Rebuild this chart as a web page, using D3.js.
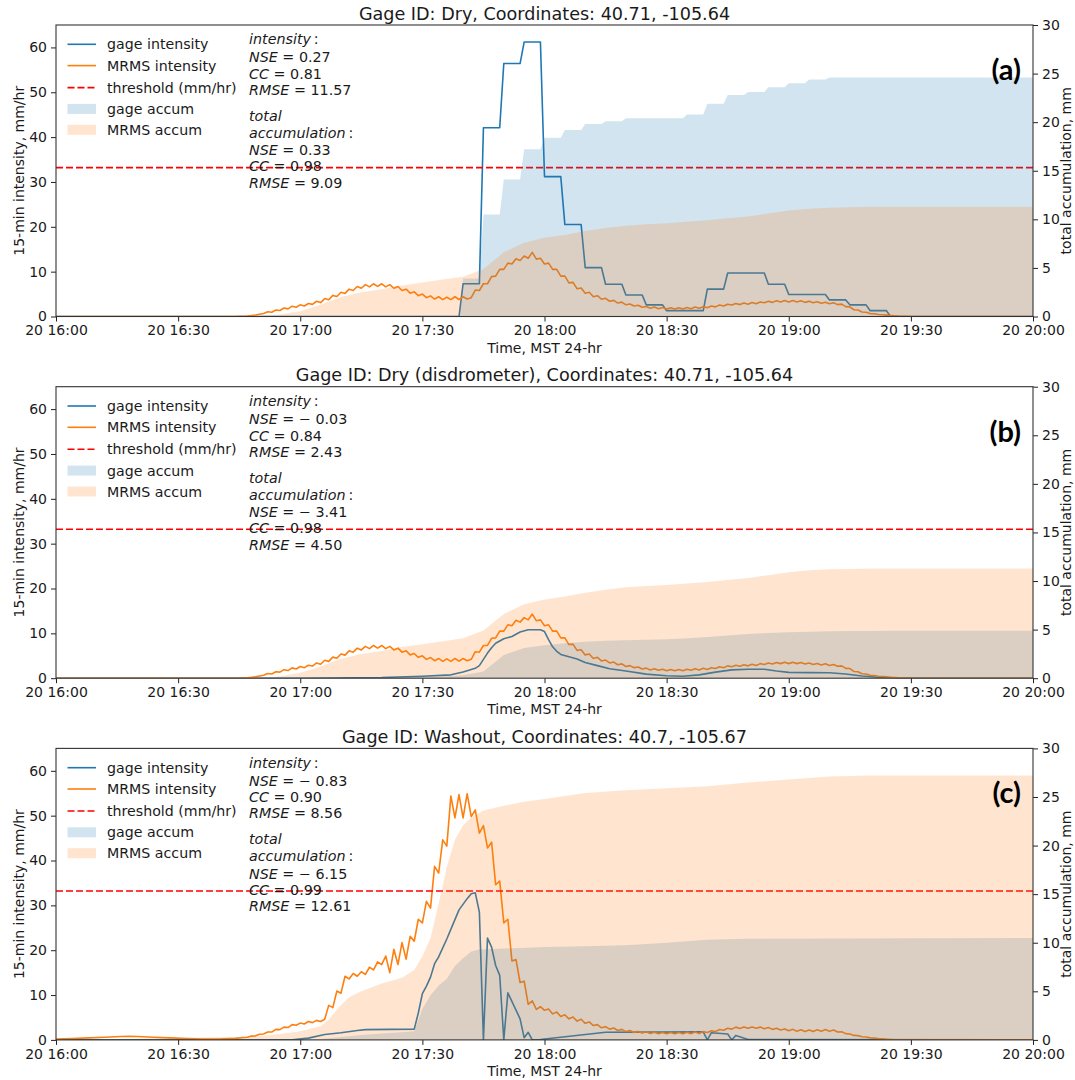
<!DOCTYPE html>
<html>
<head>
<meta charset="utf-8">
<script src="https://cdn.jsdelivr.net/npm/d3@7"></script>
<style>
  body { margin: 0; background: #fff; }
  text { font-family: 'DejaVu Sans', sans-serif; }
</style>
</head>
<body>
<svg width="1075" height="1080"></svg>
<script>
// all times are minutes after 20 16:00 (MST)

// gage Dry: 5-min blocks starting at 17:40
const gageDryStart = 100
const gageDryI = [7.3, 42.1, 56.4, 61.2, 31.2, 20.5, 10.9, 7.2, 4.8, 2.6, 1.3, 1.3, 6.1, 9.7, 9.7, 7.2, 4.9, 4.9, 3.7, 2.6, 1.3, 0]
const gageDryA = [3.9, 10.5, 14.1, 17.2, 18.4, 19.2, 19.8, 20.1, 20.4, 20.4, 20.4, 20.8, 21.9, 22.8, 23.1, 23.6, 24.0, 24.4, 24.6]

// MRMS Dry intensity, 1-min values from 16:44
const mrmsDryStart = 44
const mrmsDryI = [
  0, 0.02, 0.05, 0.1, 0.2, 0.33, 0.5, 0.65, 1.05, 0.95,
  1.45, 1.35, 1.9, 1.7, 2.3, 2.05, 2.6, 2.35, 2.9, 2.7,
  3.4, 3.1, 4.0, 3.75, 4.7, 4.45, 5.4, 5.15, 6.1, 5.8,
  6.7, 6.3, 7.1, 6.6, 7.3, 6.7, 7.3, 6.6, 7.1, 6.3,
  6.7, 5.8, 6.1, 5.2, 5.5, 4.65, 5.0, 4.2, 4.6, 3.9,
  4.4, 3.75, 4.3, 3.75, 4.4, 3.8, 4.4, 3.9, 4.2, 5.9,
  5.8, 7.3, 7.3, 8.9, 9.0, 10.5, 10.5, 11.9, 11.7, 12.9,
  12.5, 13.5, 13.0, 14.3, 12.8, 13.0, 11.7, 11.9, 10.5, 10.5,
  9.0, 9.0, 7.5, 7.6, 6.2, 6.35, 5.2, 5.4, 4.4, 4.65,
  3.85, 4.05, 3.4, 3.6, 3.0, 3.2, 2.6, 2.8, 2.35, 2.5,
  2.05, 2.25, 1.85, 2.1, 1.75, 2.0, 1.65, 1.95, 1.65, 1.95,
  1.65, 2.0, 1.75, 2.1, 1.85, 2.2, 1.95, 2.35, 2.15, 2.55,
  2.35, 2.75, 2.55, 2.9, 2.65, 3.0, 2.75, 3.1, 2.85, 3.25,
  3.05, 3.4, 3.15, 3.5, 3.25, 3.55, 3.25, 3.55, 3.25, 3.5,
  3.15, 3.4, 3.05, 3.3, 2.95, 3.2, 2.85, 3.05, 2.65, 2.75,
  2.2, 2.15, 1.5, 1.45, 1.0, 0.95, 0.65, 0.6, 0.45, 0.38,
  0.3, 0.22, 0.15, 0.08, 0.05, 0.02, 0
]
// MRMS Dry accumulation (mm), every 5 min from 16:00
const mrmsDryA = [
  0, 0, 0, 0, 0, 0, 0, 0, 0, 0,
  0.05, 0.2, 0.55, 1.2, 2.0, 2.5, 2.8, 3.2, 3.5, 3.8,
  4.1, 4.9, 6.6, 7.6, 8.1, 8.4, 8.8, 9.1, 9.35, 9.5,
  9.6, 9.75, 9.9, 10.1, 10.3, 10.6, 10.9, 11.1, 11.2, 11.25,
  11.3, 11.3, 11.3, 11.3, 11.3, 11.3, 11.3, 11.3, 11.3
]

// disdrometer
const gageDisT = [0, 60, 80, 90, 97, 100, 103, 104, 105, 106, 107, 108, 110, 112, 114, 116, 119, 120, 121, 122, 123, 124, 126, 128, 130, 133, 136, 140, 145, 150, 154, 158, 162, 166, 170, 174, 177, 180, 185, 190, 194, 198, 202, 207, 240]
const gageDisI = [0, 0, 0.15, 0.45, 0.75, 1.4, 2.2, 2.8, 4.2, 5.6, 6.8, 7.8, 8.8, 9.3, 10.3, 10.8, 10.8, 10.4, 8.6, 7.0, 6.0, 5.3, 4.8, 4.3, 3.5, 2.8, 2.1, 1.6, 0.9, 0.55, 0.45, 0.75, 1.35, 1.85, 2.0, 2.0, 1.6, 1.3, 1.25, 1.2, 0.95, 0.5, 0.2, 0, 0]
const gageDisA = [
  0, 0, 0, 0, 0, 0, 0, 0, 0, 0, 0, 0,
  0.01, 0.02, 0.03, 0.05, 0.07, 0.1, 0.15, 0.2, 0.3, 0.7,
  2.4, 3.1, 3.4, 3.6, 3.75, 3.85, 3.9, 3.95, 4.0, 4.1,
  4.25, 4.4, 4.55, 4.65, 4.72, 4.78, 4.82, 4.85, 4.87, 4.88,
  4.88, 4.88, 4.88, 4.88, 4.88, 4.88, 4.88
]

// Washout
const gageWashT = [0, 58, 62, 66, 70, 74, 76, 88, 89, 90, 91, 92, 93, 94, 96, 99, 101, 102, 103, 104, 105, 106, 107, 108, 109, 110, 111, 114, 115, 116, 117, 119, 135, 159, 160, 161, 165, 166, 167, 170, 240]
const gageWashI = [0, 0, 0.4, 1.2, 1.6, 2.1, 2.3, 2.4, 6.0, 10.3, 12.0, 14.0, 17.0, 18.5, 22.5, 29.0, 31.5, 32.6, 32.8, 28.5, 0, 22.7, 20.7, 16.6, 14.4, 0, 10.5, 4.7, 0.5, 1.7, 0, 0.1, 1.7, 1.8, 0, 1.6, 1.3, 0, 1.0, 0.1, 0]
const gageWashAT = [0, 60, 65, 70, 75, 80, 85, 88, 90, 92, 94, 96, 98, 100, 102, 104, 110, 120, 130, 140, 150, 160, 170, 240]
const gageWashA = [0, 0, 0.1, 0.3, 0.5, 0.65, 0.8, 0.9, 3.2, 4.6, 5.6, 6.3, 7.6, 8.4, 9.1, 9.3, 9.4, 9.55, 9.65, 9.75, 10.0, 10.3, 10.4, 10.5]

const mrmsWashEarlyT = [0, 4, 8, 12, 16, 18, 20, 24, 28, 32, 36, 40, 44]
const mrmsWashEarlyI = [0.2, 0.3, 0.45, 0.6, 0.75, 0.8, 0.75, 0.6, 0.45, 0.3, 0.2, 0.2, 0.35]
const mrmsWashStart = 46
const mrmsWashI = [
  0.55, 0.6, 0.85, 0.9, 1.25, 1.3, 1.75, 1.75, 2.35, 2.3,
  2.85, 2.75, 3.4, 3.25, 3.75, 3.55, 4.1, 3.85, 4.35, 4.1,
  4.6, 7.7, 7.2, 10.9, 10.4, 14.2, 13.6, 14.8, 14.2, 15.2,
  14.6, 16.2, 15.6, 17.4, 16.8, 18.7, 15.0, 20.2, 16.8, 21.7,
  18.0, 23.1, 22.0, 26.9, 26.1, 30.9, 29.4, 38.7, 37.2, 44.6,
  43.2, 54.4, 49.5, 54.7, 49.5, 54.9, 49.8, 51.3, 46.1, 47.8,
  42.8, 44.1, 34.6, 35.4, 26.1, 26.9, 17.6, 17.9, 12.8, 13.1,
  7.9, 8.7, 6.8, 7.4, 6.6, 6.9, 5.8, 6.2, 5.2, 5.6,
  4.7, 5.1, 4.2, 4.6, 3.7, 4.0, 3.2, 3.4, 2.7, 2.95,
  2.4, 2.65, 2.1, 2.35, 1.85, 2.1, 1.65, 1.9, 1.55, 1.8,
  1.45, 1.7, 1.4, 1.65, 1.35, 1.65, 1.35, 1.65, 1.35, 1.7,
  1.4, 1.75, 1.45, 1.85, 1.65, 2.05, 1.85, 2.3, 2.15, 2.6,
  2.4, 2.85, 2.55, 2.9, 2.6, 2.9, 2.6, 2.85, 2.5, 2.75,
  2.35, 2.6, 2.2, 2.45, 2.05, 2.35, 1.95, 2.25, 1.85, 2.2,
  1.9, 2.25, 1.95, 2.3, 1.95, 2.2, 1.75, 1.8, 1.4, 1.3,
  1.0, 0.95, 0.7, 0.65, 0.45, 0.4, 0.28, 0.22, 0.15, 0.1,
  0.05, 0.02, 0
]
const mrmsWashAT = [0, 10, 20, 30, 40, 45, 50, 55, 60, 65, 67, 70, 72, 75, 80, 85, 88, 90, 92, 94, 96, 98, 100, 102, 105, 110, 115, 120, 130, 140, 150, 160, 170, 180, 190, 200, 240]
const mrmsWashA = [0, 0.05, 0.15, 0.22, 0.27, 0.3, 0.4, 0.6, 0.9, 1.4, 2.1, 3.6, 4.4, 5.0, 5.8, 6.4, 7.2, 8.6, 10.5, 14.0, 17.8, 20.6, 22.1, 22.9, 23.6, 24.1, 24.5, 24.8, 25.4, 25.7, 25.9, 26.1, 26.5, 26.8, 27.1, 27.2, 27.2]

const threshold = 33.2
const titles = [
  'Gage ID: Dry, Coordinates: 40.71, -105.64',
  'Gage ID: Dry (disdrometer), Coordinates: 40.71, -105.64',
  'Gage ID: Washout, Coordinates: 40.7, -105.67'
]
const tags = ['(a)', '(b)', '(c)']
// NSE, CC, RMSE for intensity, then for total accumulation
const statsA = ['0.27', '0.81', '11.57', '0.33', '0.98', '9.09']
const statsB = ['\u2212 0.03', '0.84', '2.43', '\u2212 3.41', '0.98', '4.50']
const statsC = ['\u2212 0.83', '0.90', '8.56', '\u2212 6.15', '0.99', '12.61']
const legendLabels = ['gage intensity', 'MRMS intensity', 'threshold (mm/hr)', 'gage accum', 'MRMS accum']
const leftTicks = [0, 10, 20, 30, 40, 50, 60]
const rightTicks = [0, 5, 10, 15, 20, 25, 30]

// ---- helpers to turn the stored values into [minute, value] points
function blockPts (start, vals) {
  let pts = [[0, 0], [start - 1, 0]]
  vals.forEach((v, i) => {
    pts.push([start + 5 * i, v], [start + 5 * i + 4, v])
  })
  pts.push([240, vals[vals.length - 1]])
  return pts
}
function minutePts (start, vals) {
  return [[0, 0]].concat(vals.map((v, i) => [start + i, v]), [[240, 0]])
}
function fivePts (vals) {
  return vals.map((v, i) => [5 * i, v])
}
function zip (t, v) {
  return t.map((d, i) => [d, v[i]])
}

const panels = [
  { gageI: blockPts(gageDryStart, gageDryI), mrmsI: minutePts(mrmsDryStart, mrmsDryI),
    gageA: blockPts(gageDryStart, gageDryA), mrmsA: fivePts(mrmsDryA), stats: statsA },
  { gageI: zip(gageDisT, gageDisI), mrmsI: minutePts(mrmsDryStart, mrmsDryI),
    gageA: fivePts(gageDisA), mrmsA: fivePts(mrmsDryA), stats: statsB },
  { gageI: zip(gageWashT, gageWashI),
    mrmsI: zip(mrmsWashEarlyT, mrmsWashEarlyI).concat(mrmsWashI.map((v, i) => [mrmsWashStart + i, v]), [[240, 0]]),
    gageA: zip(gageWashAT, gageWashA), mrmsA: zip(mrmsWashAT, mrmsWashA), stats: statsC }
]

const BLUE = '#1f77b4'
const ORANGE = '#ff7f0e'
const X0 = 56, X1 = 1033
const TOP0 = 25, PITCH = 361.7, PH = 291.5
const t0 = Date.UTC(2021, 6, 20, 16, 0)
const toDate = m => new Date(t0 + m * 60000)

const svg = d3.select('svg')
const x = d3.scaleUtc().domain([toDate(0), toDate(240)]).range([X0, X1])

panels.forEach(function (p, k) {
  let top = TOP0 + k * PITCH
  let bottom = top + PH
  let yL = d3.scaleLinear().domain([0, 65]).range([bottom, top])
  let yR = d3.scaleLinear().domain([0, 30]).range([bottom, top])
  let g = svg.append('g')

  g.append('clipPath').attr('id', 'clip' + k)
    .append('rect').attr('x', X0).attr('y', top).attr('width', X1 - X0).attr('height', PH)

  // intensity axes (drawn first, fills of the twin axis go on top)
  let ax1 = g.append('g').attr('clip-path', 'url(#clip' + k + ')')
  let line = d3.line().x(d => x(toDate(d[0]))).y(d => yL(d[1]))
  ax1.append('path').datum(p.gageI).attr('d', line)
    .attr('fill', 'none').attr('stroke', BLUE).attr('stroke-width', 1.6).attr('stroke-linejoin', 'round')
  ax1.append('path').datum(p.mrmsI).attr('d', line)
    .attr('fill', 'none').attr('stroke', ORANGE).attr('stroke-width', 1.6).attr('stroke-linejoin', 'round')
  ax1.append('line')
    .attr('x1', X0).attr('x2', X1).attr('y1', yL(threshold)).attr('y2', yL(threshold))
    .attr('stroke', '#ff0000').attr('stroke-width', 1.6).attr('stroke-dasharray', '7,3')

  // stats text
  let st = p.stats
  let lines = [
    [['intensity', true], ['\u2009:', false]],
    [['NSE', true], [' = ' + st[0], false]],
    [['CC', true], [' = ' + st[1], false]],
    [['RMSE', true], [' = ' + st[2], false]],
    [['total', true]],
    [['accumulation', true], ['\u2009:', false]],
    [['NSE', true], [' = ' + st[3], false]],
    [['CC', true], [' = ' + st[4], false]],
    [['RMSE', true], [' = ' + st[5], false]]
  ]
  let lineY = [14.3, 32.3, 48.9, 64.9, 90.8, 108, 125.4, 141.4, 158]
  lines.forEach(function (segs, i) {
    let t = g.append('text').attr('x', 249).attr('y', top + lineY[i] + 5)
      .attr('font-size', 14.3).attr('fill', '#1a1a1a')
    segs.forEach(function (s) {
      t.append('tspan').attr('font-style', s[1] ? 'italic' : 'normal').text(s[0])
    })
  })

  // legend
  let legY = [19.3, 40.6, 62.6, 83.9, 104.8]
  legendLabels.forEach(function (lab, i) {
    let cy = top + legY[i]
    if (i < 3) {
      g.append('line').attr('x1', 67.5).attr('x2', 96).attr('y1', cy).attr('y2', cy)
        .attr('stroke', [BLUE, ORANGE, '#ff0000'][i]).attr('stroke-width', 1.6)
        .attr('stroke-dasharray', i === 2 ? '7,3' : null)
    } else {
      g.append('rect').attr('x', 67.5).attr('y', cy - 5).attr('width', 28.5).attr('height', 10)
        .attr('fill', i === 3 ? BLUE : ORANGE).attr('fill-opacity', 0.2)
    }
    g.append('text').attr('x', 107).attr('y', cy + 5).attr('font-size', 14.2)
      .attr('fill', '#1a1a1a').text(lab)
  })

  // accumulation fills (twin axis)
  let ax2 = g.append('g').attr('clip-path', 'url(#clip' + k + ')')
  let area = d3.area().x(d => x(toDate(d[0]))).y0(yR(0)).y1(d => yR(d[1]))
  ax2.append('path').datum(p.gageA).attr('d', area)
    .attr('fill', BLUE).attr('fill-opacity', 0.2)
  ax2.append('path').datum(p.mrmsA).attr('d', area)
    .attr('fill', ORANGE).attr('fill-opacity', 0.2)

  // axes
  let axL = g.append('g').attr('transform', 'translate(' + X0 + ',0)')
    .call(d3.axisLeft(yL).tickValues(leftTicks).tickSize(5).tickPadding(4).tickSizeOuter(0))
  let axR = g.append('g').attr('transform', 'translate(' + X1 + ',0)')
    .call(d3.axisRight(yR).tickValues(rightTicks).tickSize(5).tickPadding(4).tickSizeOuter(0))
  let axB = g.append('g').attr('transform', 'translate(0,' + bottom + ')')
    .call(d3.axisBottom(x).ticks(d3.utcMinute.every(30)).tickFormat(d3.utcFormat('%d %H:%M'))
      .tickSize(5).tickPadding(4).tickSizeOuter(0))
  ;[axL, axR, axB].forEach(function (a) {
    a.select('.domain').remove()
    a.selectAll('text').attr('font-size', 14).attr('fill', '#1a1a1a')
      .style('font-family', "'DejaVu Sans', sans-serif")
    a.selectAll('line').attr('stroke', '#222')
  })
  g.append('rect').attr('x', X0).attr('y', top).attr('width', X1 - X0).attr('height', PH)
    .attr('fill', 'none').attr('stroke', '#333').attr('stroke-width', 1.1)

  // labels
  g.append('text').attr('x', (X0 + X1) / 2).attr('y', top - 5.5).attr('text-anchor', 'middle')
    .attr('font-size', 17.6).attr('fill', '#1a1a1a').text(titles[k])
  g.append('text').attr('x', (X0 + X1) / 2).attr('y', bottom + 36).attr('text-anchor', 'middle')
    .attr('font-size', 14).attr('fill', '#1a1a1a').text('Time, MST 24-hr')
  g.append('text').attr('transform', 'translate(24,' + (top + PH / 2) + ') rotate(-90)')
    .attr('text-anchor', 'middle').attr('font-size', 14).attr('fill', '#1a1a1a')
    .text('15-min intensity, mm/hr')
  g.append('text').attr('transform', 'translate(1071,' + (top + PH / 2) + ') rotate(-90)')
    .attr('text-anchor', 'middle').attr('font-size', 14).attr('fill', '#1a1a1a')
    .text('total accumulation, mm')
  g.append('text').attr('x', 1021).attr('y', top + 55).attr('text-anchor', 'end')
    .attr('font-size', 29).attr('font-weight', 'bold').attr('fill', '#000')
    .style('font-family', "Lato, 'Open Sans', sans-serif").text(tags[k])
})
</script>
</body>
</html>
